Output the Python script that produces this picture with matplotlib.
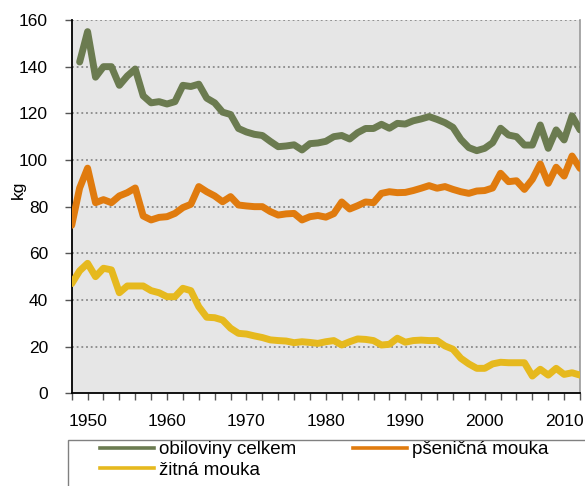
import matplotlib
matplotlib.use("Agg")
import matplotlib.pyplot as plt
from matplotlib.lines import Line2D
from matplotlib.patches import Rectangle

plt.rcParams['font.family'] = ['Liberation Sans', 'DejaVu Sans']

years = list(range(1948, 2013))
years_green = list(range(1949, 2013))

obiloviny = [142, 155, 135.5, 140, 140, 132, 136, 139, 127.5, 124.5,
             125, 124, 125, 132, 131.5, 132.5, 126.5, 124.5, 120.5, 119.5,
             113.5, 112, 111, 110.5, 108, 105.7, 106, 106.5, 104.3, 107,
             107.3, 108, 110, 110.5, 109, 111.7, 113.5, 113.5, 115.3, 113.6,
             115.7, 115.4, 116.8, 117.6, 118.6, 117.4, 116, 114, 108.8, 105.3,
             104, 105, 107.4, 113.6, 110.7, 110, 106.4, 106.4, 115, 105,
             112.9, 108.6, 118.9, 112.9]

psenicna = [72, 88, 96.5, 81.7, 83, 81.7, 84.6, 86, 88, 76,
            74.3, 75.4, 75.7, 77.1, 79.6, 81, 88.6, 86.4, 84.6, 82.1,
            84.3, 80.7, 80.3, 80, 80, 77.9, 76.4, 76.9, 77.1, 74.3,
            75.7, 76.2, 75.5, 77, 82, 79, 80.4, 82, 81.7, 85.7,
            86.4, 86, 86.1, 86.9, 87.9, 89, 87.9, 88.6, 87.4, 86.4,
            85.7, 86.7, 86.9, 88, 94.3, 90.7, 91.1, 87.4, 91.7, 98.3,
            90, 96.9, 93.1, 101.7, 96.4]

zitna = [47, 52.5, 55.7, 50, 53.6, 52.9, 43.1, 46, 46, 46,
         44, 43.1, 41.4, 41.4, 45, 44, 37.1, 32.6, 32.4, 31.4,
         27.9, 25.7, 25.4, 24.6, 23.9, 22.9, 22.6, 22.4, 21.7, 22.1,
         21.8, 21.4, 22.1, 22.6, 20.7, 22.1, 23.3, 23.1, 22.6, 20.7,
         21, 23.6, 21.9, 22.6, 22.8, 22.6, 22.6, 20.3, 18.9, 15,
         12.6, 10.7, 10.7, 12.6, 13.3, 13.1, 13.1, 13.1, 7.4, 10.3,
         7.8, 10.7, 8.1, 8.8, 7.8]

labels = ['obiloviny celkem', 'pšeničná mouka', 'žitná mouka']
colors = ['#6b7b50', '#e07b0e', '#e6b91e']

yticks = list(range(0, 161, 20))
xlabel_years = [1950, 1960, 1970, 1980, 1990, 2000, 2010]

fig = plt.figure(figsize=(5.85, 4.86), dpi=100)
ax = fig.add_axes([71.7 / 585, 1 - 393.3 / 486, (580 - 71.7) / 585, (393.3 - 20) / 486])
ax.set_facecolor('#e6e6e6')

lw = 5.0
kw = dict(lw=lw, solid_joinstyle='round', solid_capstyle='round', zorder=3)
ax.plot(years_green, obiloviny, color=colors[0], **kw)
ax.plot(years, psenicna, color=colors[1], **kw)
ax.plot(years, zitna, color=colors[2], **kw)

ax.set_xlim(1948, 2012)
ax.set_ylim(0, 160)
ax.set_yticks(yticks)
ax.set_yticklabels([str(v) for v in yticks])
for v in yticks[1:]:
    ax.axhline(v, color='#8a8a8a', lw=1.3, linestyle=(0, (1, 1.6)), zorder=1)

xt = list(range(1948, 2013, 2))
ax.set_xticks(xt)
ax.set_xticklabels([str(y) if y in xlabel_years else '' for y in xt])

ax.tick_params(axis='y', direction='out', length=5, width=1, color='#555555', pad=12, labelsize=12.5)
ax.tick_params(axis='x', direction='out', length=5, width=1, color='#555555', pad=10, labelsize=12.5)

ax.spines['top'].set_visible(False)
ax.spines['right'].set_color('#9a9a9a')
ax.spines['right'].set_linewidth(1.2)
ax.spines['left'].set_color('black')
ax.spines['left'].set_linewidth(1.3)
ax.spines['bottom'].set_color('black')
ax.spines['bottom'].set_linewidth(1.3)

fig.text(18 / 585, 1 - 190 / 486, 'kg', rotation=90, ha='center', va='center', fontsize=12.5)

# legend frame (extends beyond the figure edges like the reference)
fig.patches.append(Rectangle((68 / 585, -0.1), (620 - 68) / 585, 0.1 + 1 - 440 / 486,
                             transform=fig.transFigure, facecolor='white',
                             edgecolor='#808080', lw=1.0, zorder=0))

handles = [Line2D([], [], color=c, lw=2.6) for c in colors]
order = [0, 2, 1]
leg = fig.legend([handles[i] for i in order], [labels[i] for i in order],
                 loc='upper left', ncol=2,
                 bbox_to_anchor=(100 / 585, 1 - 441 / 486),
                 fontsize=13.5, frameon=False,
                 handlelength=2.9, handletextpad=0.25, columnspacing=3.0,
                 borderpad=0, labelspacing=0.2, borderaxespad=0)

fig.savefig('out.png', dpi=100)
